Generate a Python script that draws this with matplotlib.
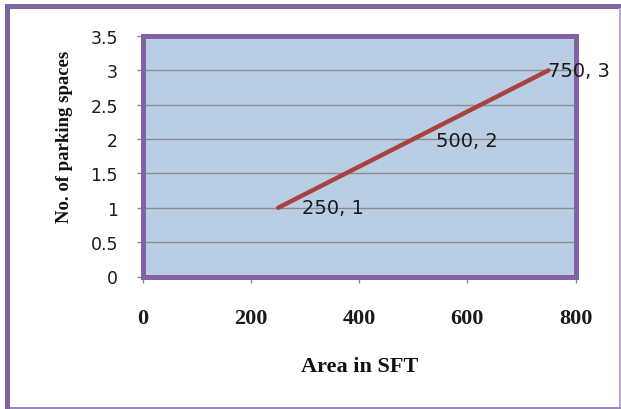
import matplotlib
matplotlib.use("Agg")
import matplotlib.pyplot as plt
from matplotlib.patches import Rectangle

# Area (square feet) vs. required parking spaces
area_sft = [250, 500, 750]
parking_spaces = [1, 2, 3]
x_ticks = [0, 200, 400, 600, 800]
y_ticks = [0, 0.5, 1, 1.5, 2, 2.5, 3, 3.5]
y_tick_labels = ["0", "0.5", "1", "1.5", "2", "2.5", "3", "3.5"]

purple = "#8064A2"
line_red = "#A8423F"
plot_bg = "#B9CDE5"

W, H = 621, 410
fig = plt.figure(figsize=(W / 100, H / 100), dpi=100)
fig.patch.set_facecolor("white")


def px_rect(x0, y0, x1, y1, color):
    """Filled rectangle given in pixel coordinates (origin top-left)."""
    fig.add_artist(Rectangle((x0 / W, 1 - y1 / H), (x1 - x0) / W, (y1 - y0) / H,
                             transform=fig.transFigure, facecolor=color,
                             edgecolor="none", zorder=0))


# chart frame: heavy on the left/top, thin on the right/bottom
px_rect(5, 5, 10, H, purple)
px_rect(5, 5, W, 9.5, purple)
px_rect(619, 9, 621, H, "#B9A9CF")
px_rect(10, 407.5, 621, 409.5, "#9D88BB")

ax = fig.add_axes([143 / W, 1 - 277.5 / H, 432.5 / W, 240.5 / H])
ax.set_facecolor(plot_bg)
ax.set_xlim(0, 800)
ax.set_ylim(0, 3.5)

for s in ax.spines.values():
    s.set_color(purple)
    s.set_linewidth(3.6)

ax.set_yticks(y_ticks)
ax.set_yticklabels(y_tick_labels, fontfamily="DejaVu Sans", fontsize=12.5,
                   color="#1a1a1a")
ax.set_xticks(x_ticks)
ax.set_xticklabels([str(v) for v in x_ticks], fontfamily="Liberation Serif",
                   fontweight="bold", fontsize=16, color="#1a1a1a")
ax.tick_params(axis="y", length=4, width=1, color="#888888", pad=14)
ax.tick_params(axis="x", length=4, width=1, color="#888888", pad=19)

ax.grid(axis="y", color="#8C8C8C", linewidth=1)
ax.set_axisbelow(True)

ax.plot(area_sft, parking_spaces, color=line_red, linewidth=3.2,
        solid_capstyle="round", zorder=3)

# data-label offsets (points) to the right of each vertex
label_offsets = [(17, 0), (16, -1), (0, 0)]
for (x, y), (dx, dy) in zip(zip(area_sft, parking_spaces), label_offsets):
    ax.annotate(f"{x}, {y}", (x, y), xytext=(dx, dy), textcoords="offset points",
                ha="left", va="center", fontsize=14,
                fontfamily="DejaVu Sans", color="#1a1a1a", zorder=4,
                annotation_clip=False)

ax.set_xlabel("Area in SFT", fontfamily="Liberation Serif", fontweight="bold",
              fontsize=16, labelpad=20, color="#111111")
ax.set_ylabel("No. of parking spaces", fontfamily="Liberation Serif",
              fontweight="bold", fontsize=13.5, color="#111111")
ax.yaxis.set_label_coords(-0.162, 0.583)

fig.savefig("out.png", dpi=100)
